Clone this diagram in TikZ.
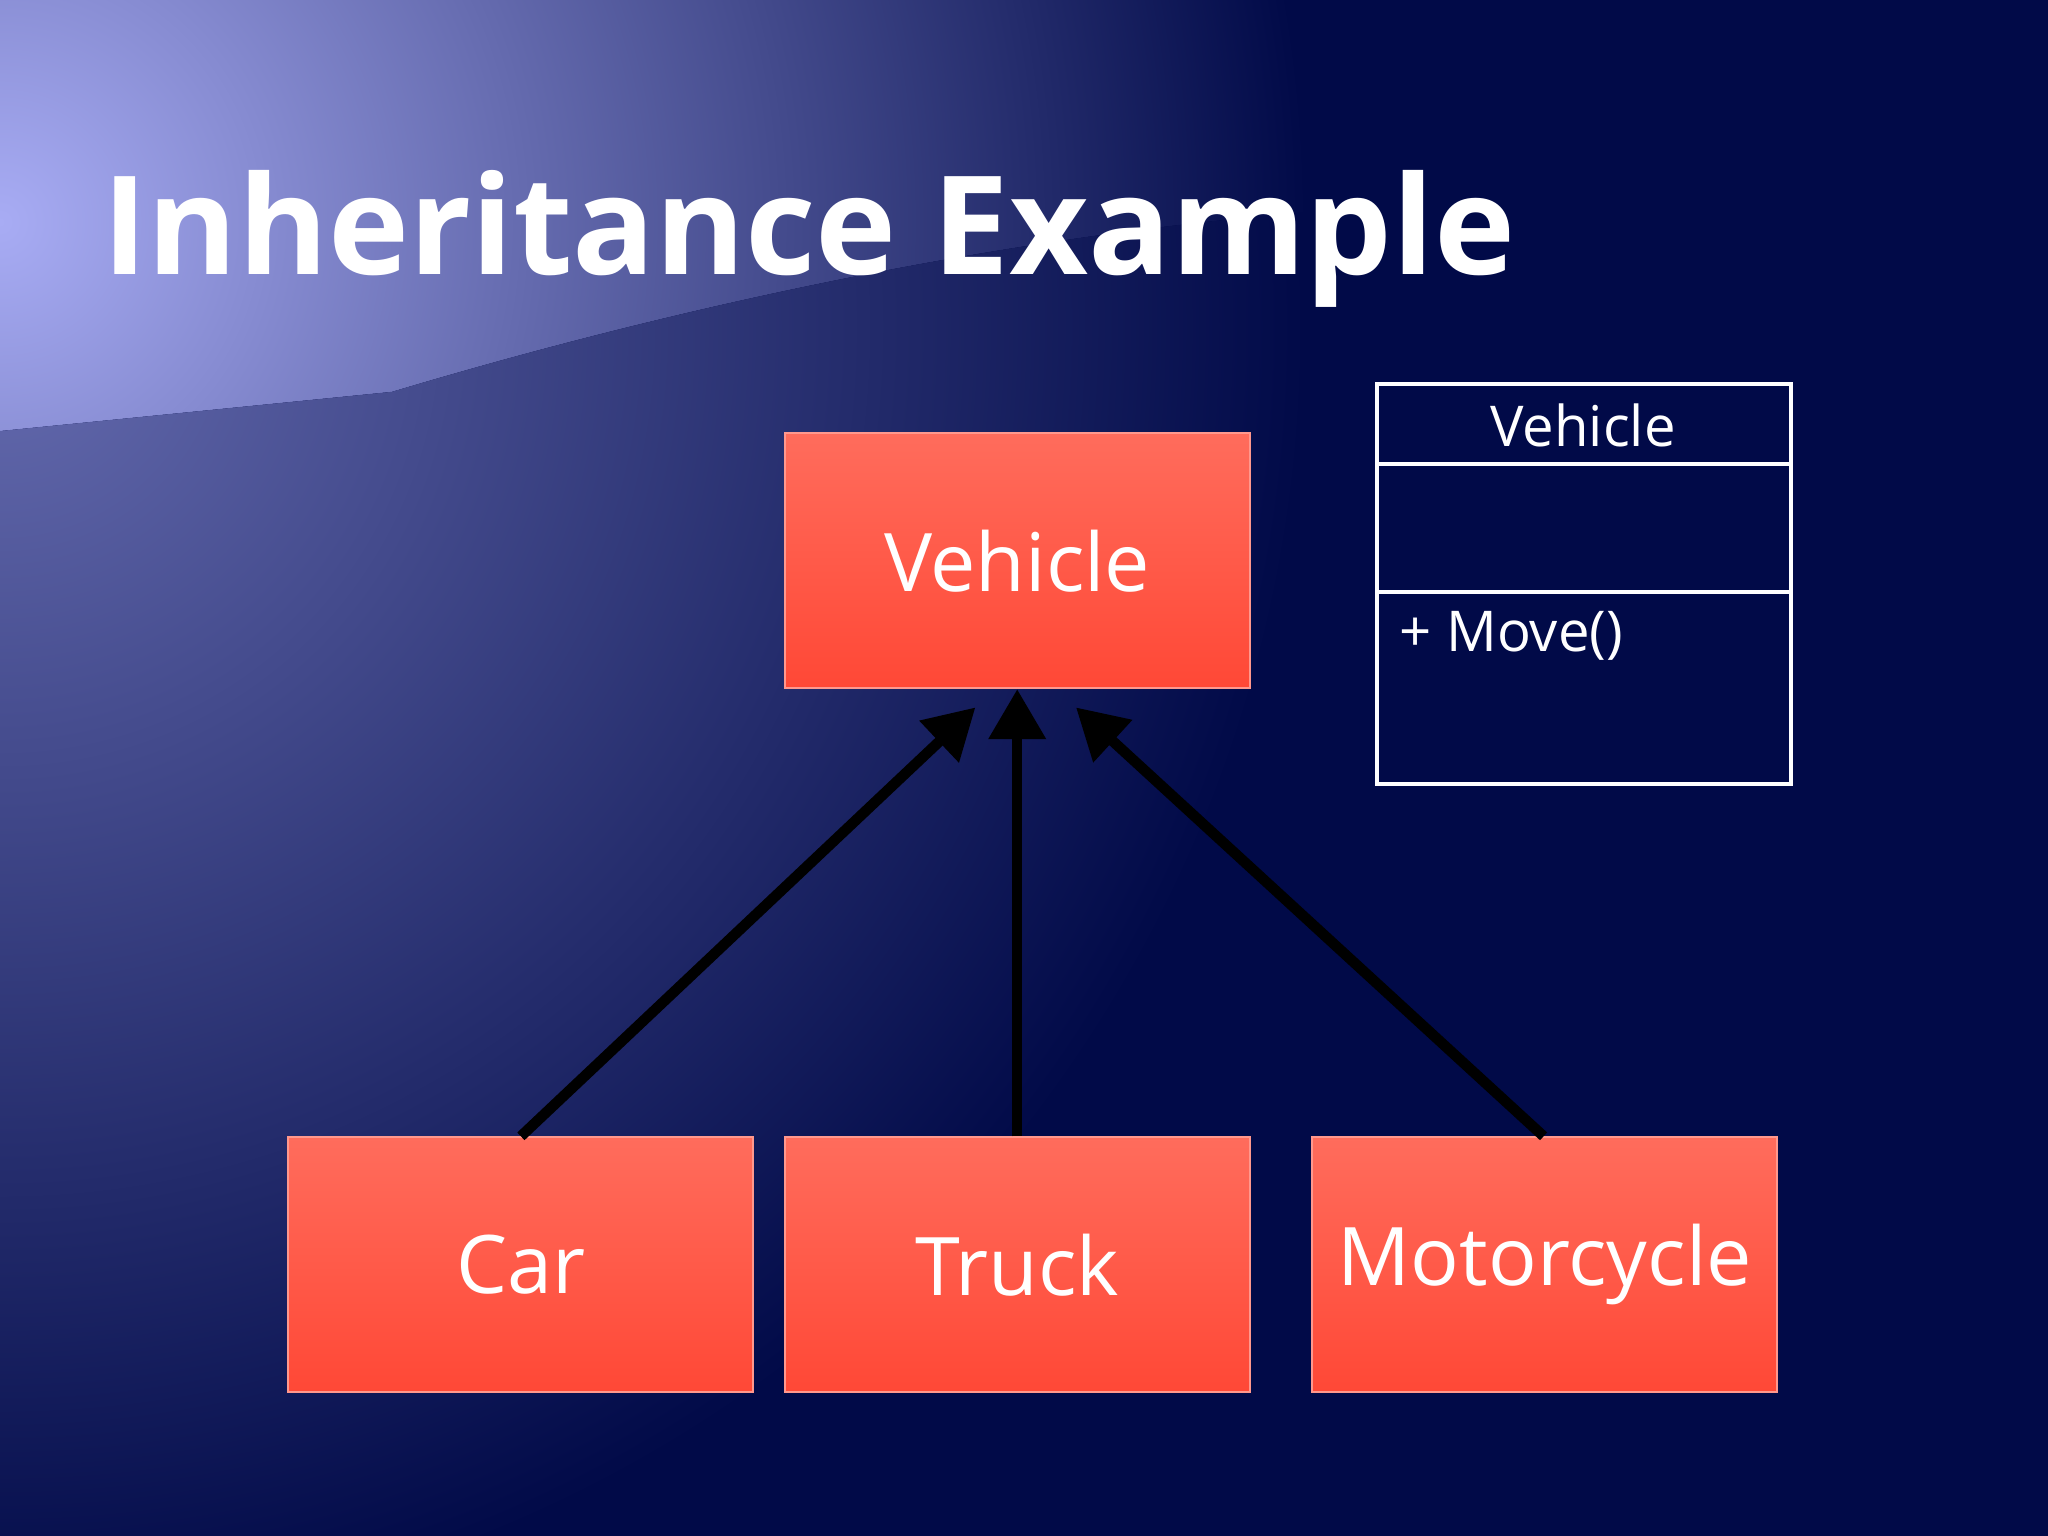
\documentclass[tikz,border=0pt]{standalone}
\usepackage{fontspec}
\setmainfont{Open Sans}
\usetikzlibrary{arrows.meta}
\definecolor{bgdark}{HTML}{010A48}
\definecolor{bglight}{HTML}{A8ACF4}
\definecolor{redtop}{HTML}{FF6C5C}
\definecolor{redbot}{HTML}{FF4836}
\tikzset{
  redbox/.style={draw=redtop!70!white, line width=0.6pt, top color=redtop, bottom color=redbot,
    minimum width=356*0.01306cm, minimum height=195*0.01306cm, text=white,
    font=\fontsize{23}{26}\selectfont, anchor=north west, inner sep=0pt},
  inh/.style={line width=3pt, black, -{Triangle[length=0.5cm,width=0.55cm]}},
  uml/.style={draw=white, line width=1.2pt}
}
\begin{document}
\begin{tikzpicture}[x=0.01306cm,y=-0.01306cm]
\useasboundingbox (0,0) rectangle (1568,1176);
\fill[bgdark] (0,0) rectangle (1568,1176);
\begin{scope}
\clip (0,0) rectangle (1568,1176);
\clip (0,0) -- (1568,0) -- (1568,200) .. controls (1200,100) and (700,180) .. (300,300) -- (0,330) -- cycle;
\shade[inner color=bglight, outer color=bgdark] (0,170) circle (1000);
\end{scope}
\begin{scope}
\clip (0,330) -- (300,300) .. controls (700,180) and (1200,100) .. (1568,200) -- (1568,1176) -- (0,1176) -- cycle;
\shade[inner color=bglight!60!bgdark, outer color=bgdark] (0,250) circle (1000);
\end{scope}
\node[anchor=base west, text=white, font=\fontsize{39}{44}\selectfont\bfseries, inner sep=0pt] (title) at (78,210) {Inheritance Example};
\node[redbox] (veh) at (600,331) {Vehicle};
\node[redbox] (car) at (220,870) {Car};
\node[redbox] (truck) at (600,870) {Truck};
\node[redbox] (moto) at (1004,870) {Motorcycle};
\draw[inh] (car.north) -- ([xshift=-32*0.01306cm,yshift=-14*0.01306cm]veh.south);
\draw[inh] (truck.north) -- (veh.south);
\draw[inh] ([xshift=-1*0.01306cm]moto.north) -- ([xshift=45*0.01306cm,yshift=-14*0.01306cm]veh.south);
\draw[uml] (1054,294) rectangle (1371,600);
\draw[uml] (1054,355) -- (1371,355);
\draw[uml] (1054,453) -- (1371,453);
\node[text=white, font=\fontsize{16}{19}\selectfont] (umlname) at (1212,326) {Vehicle};
\node[text=white, font=\fontsize{16}{19}\selectfont, anchor=west] (umlop) at (1062,487) {+ Move()};
\end{tikzpicture}
\end{document}
